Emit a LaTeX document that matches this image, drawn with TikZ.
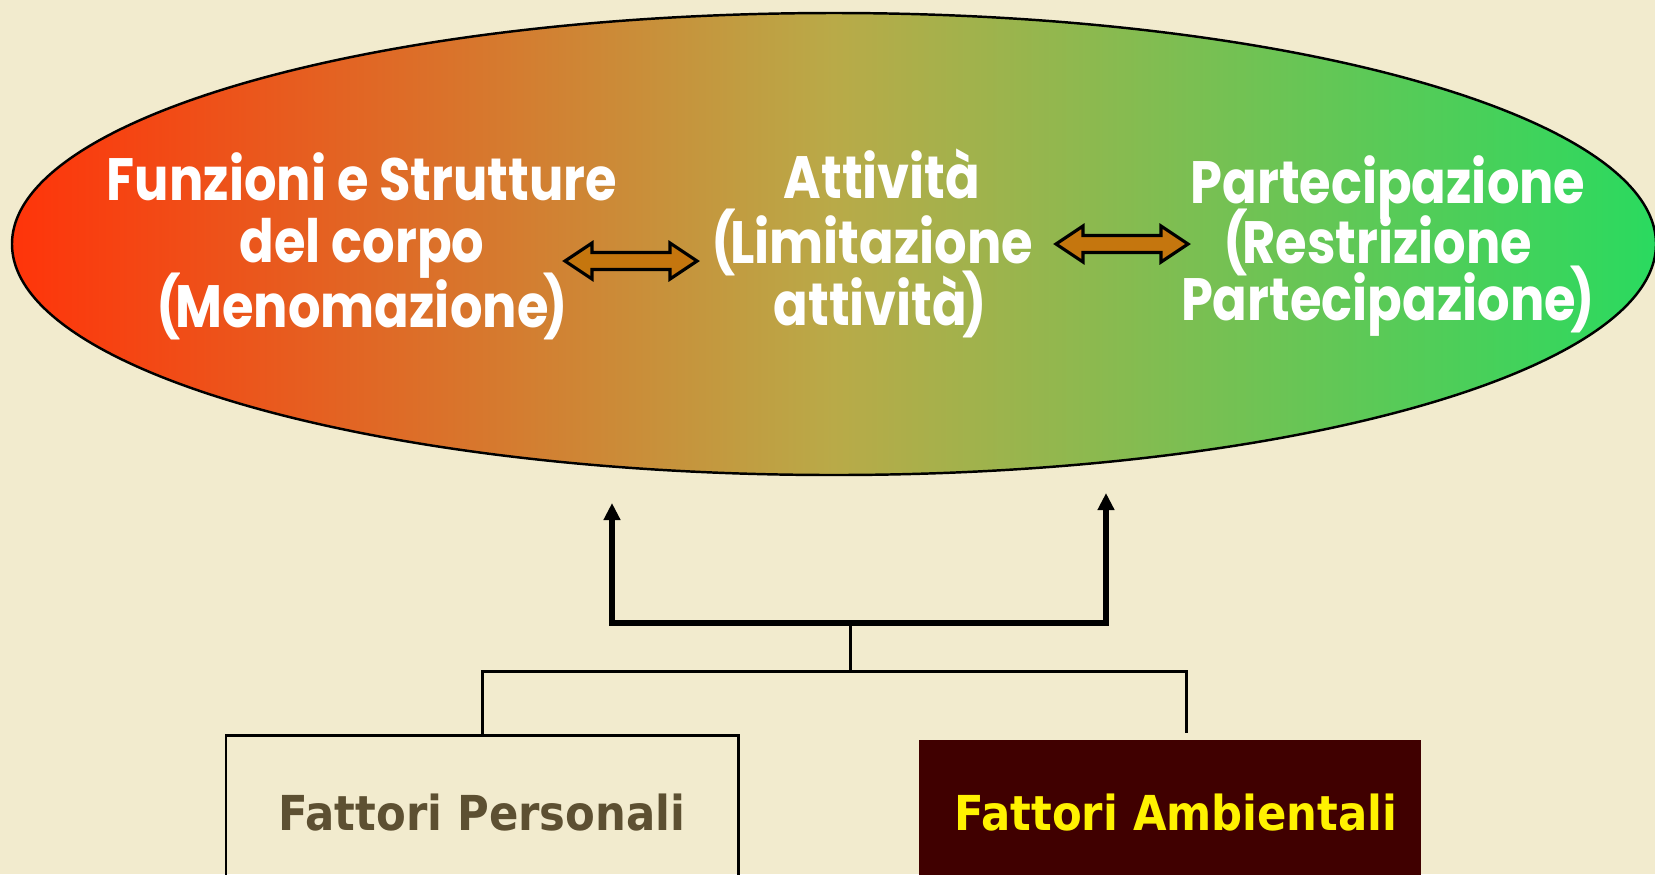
\documentclass[tikz,border=0pt]{standalone}
\usepackage{fontspec}
\setmainfont{Poppins}
\newfontfamily\cfont{Poppins}[FakeStretch=0.855]
\newfontfamily\boxfont{DejaVu Sans Condensed}
\usetikzlibrary{shapes.geometric,arrows.meta}
\definecolor{bg}{RGB}{242,235,206}
\definecolor{redL}{RGB}{255,52,10}
\definecolor{midC}{RGB}{185,170,72}
\definecolor{greenR}{RGB}{42,218,95}
\definecolor{arrowfill}{RGB}{197,118,14}
\definecolor{maroon}{RGB}{64,0,0}
\definecolor{olivetext}{RGB}{93,80,50}
\newcommand{\lp}{(\kern-0.09em}
\newcommand{\rp}{\kern-0.09em)}
\tikzset{
  lbl/.style={anchor=base, text=white, font=\cfont\bfseries\fontsize{17}{20}\selectfont, inner sep=0pt},
  dblarrow/.style={draw=black, line width=0.9pt, fill=arrowfill, line join=miter},
  thickline/.style={line width=1.45pt, -{Triangle[length=0.17cm,width=0.16cm]}},
  thinline/.style={line width=0.85pt},
  boxtext/.style={font=\boxfont\bfseries\fontsize{13.7}{16}\selectfont}
}
\begin{document}
\begin{tikzpicture}
\useasboundingbox (0,0) rectangle (16.55,-8.74);
\fill[bg] (0,0) rectangle (16.55,-8.74);
% ellipse
\node[ellipse, draw=black, line width=0.7pt, minimum width=16.44cm, minimum height=4.62cm,
      left color=redL, right color=greenR, middle color=midC] (icf) at (8.34,-2.44) {};
% left block
\node[lbl] (l1) at (3.62,-2.00) {Funzioni e Strutture};
\node[lbl] (l2) at (3.62,-2.62) {del corpo};
\node[lbl] (l3) at (3.62,-3.27) {\lp Menomazione\rp};
% middle block
\node[lbl] (m1) at (8.82,-1.98) {Attività};
\node[lbl] (m2) at (8.72,-2.63) {\lp Limitazione};
\node[lbl] (m3) at (8.80,-3.25) {attività\rp};
% right block
\node[lbl] (r1) at (13.88,-2.03) {Partecipazione};
\node[lbl] (r2) at (13.78,-2.63) {\lp Restrizione};
\node[lbl] (r3) at (13.88,-3.20) {Partecipazione\rp};
% double arrows
\coordinate (da1) at (5.65,-2.61);
\coordinate (da2) at (10.56,-2.44);
\foreach \c in {da1,da2}{
  \draw[dblarrow] (\c) -- ++(0.27,0.18) -- ++(0,-0.095) -- ++(0.78,0) -- ++(0,0.095)
     -- ++(0.27,-0.18) -- ++(-0.27,-0.18) -- ++(0,0.095) -- ++(-0.78,0) -- ++(0,-0.095) -- cycle;
}
% boxes
\node[draw=black, line width=0.85pt, minimum width=5.12cm, minimum height=1.56cm, boxtext, text=olivetext]
   (fp) at (4.82,-8.13) {Fattori Personali};
\node[fill=maroon, minimum width=5.02cm, minimum height=1.46cm, boxtext, text=yellow]
   (fa) at (11.70,-8.13) {\hspace*{0.12cm}Fattori Ambientali};
% connectors
\coordinate (hubB) at (8.50,-6.71);
\coordinate (hubT) at (8.50,-6.23);
\coordinate (tipL) at (6.12,-5.03);
\coordinate (tipR) at (11.06,-4.93);
\coordinate (faTop) at (11.86,-7.33);
\draw[thinline] (fp.north) |- (hubB) -| (faTop);
\draw[thinline] (hubB) -- (hubT);
\draw[thickline] (hubT) -| (tipL);
\draw[thickline] (hubT) -| (tipR);
\end{tikzpicture}
\end{document}
